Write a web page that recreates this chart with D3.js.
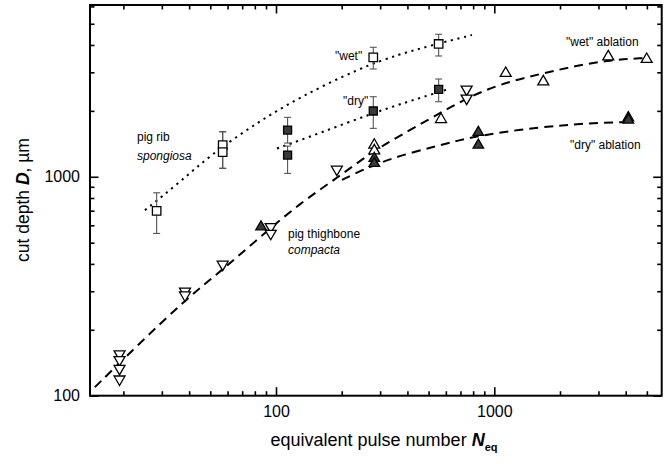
<!DOCTYPE html>
<html>
<head>
<meta charset="utf-8">
<script src="https://cdn.jsdelivr.net/npm/d3@7/dist/d3.min.js"></script>
<style>
body { margin: 0; background: #fff; }
text { font-family: "Liberation Sans", Arial, sans-serif; }
</style>
</head>
<body>
<div id="chart"></div>
<script>

// ---- data (N_eq, D in um) ----

// pig rib spongiosa, "wet" (open squares)
var wetSpongN  = [28.4, 57, 57, 279, 556];
var wetSpongD  = [699, 1396, 1297, 3514, 4042];
var wetSpongLo = [551, 1093, 1093, 3106, 3562];
var wetSpongHi = [845, 1606, 1606, 3904, 4476];

// pig rib spongiosa, "dry" (filled squares)
var drySpongN  = [113, 113, 279, 556];
var drySpongD  = [1635, 1257, 1997, 2508];
var drySpongLo = [1426, 1036, 1664, 2202];
var drySpongHi = [1868, 1381, 2321, 2796];

// pig thighbone compacta (open down triangles)
var compactaN = [19.2, 19.2, 19.2, 19.2, 38.3, 38.3, 57, 94.6, 94.6, 190, 747, 747];
var compactaD = [155, 146, 133, 119, 300, 288, 398, 591, 551, 1081, 2508, 2282];

// "wet" ablation (open up triangles)
var wetAblN = [282, 282, 570, 1128, 1677, 3328, 4990];
var wetAblD = [1396, 1315, 1829, 2969, 2718, 3535, 3440];

// "dry" ablation (filled up triangles)
var dryAblN = [85.4, 282, 282, 845, 845, 4111, 4111];
var dryAblD = [591, 1214, 1151, 1596, 1396, 1861, 1816];

// fit curves
var wetFitN = [25.1, 36.3, 51.4, 82.7, 128.8, 242.6, 370, 524, 790];
var wetFitD = [704, 946, 1283, 1778, 2313, 3140, 3638, 3999, 4442];
var dryFitN = [101, 159, 278, 411, 607];
var dryFitD = [1346, 1584, 1955, 2218, 2503];
var ablWetFitN = [14.8, 23.8, 38.3, 56.6, 84.5, 128.8, 190.3, 278, 411, 564, 750, 1062, 1619, 2343, 3389, 4901];
var ablWetFitD = [109.4, 173.8, 273.3, 374.7, 530, 758, 986, 1311, 1635, 1955, 2289, 2653, 2947, 3206, 3415, 3487];
var ablDryFitN = [200.6, 309, 564, 860, 1619, 2744, 4055];
var ablDryFitD = [967, 1192, 1396, 1551, 1687, 1760, 1778];

// ticks
var xMajor = [100, 1000];
var xMinor = [20, 30, 40, 50, 60, 70, 80, 90, 200, 300, 400, 500, 600, 700, 800, 900, 2000, 3000, 4000, 5000];
var yMajor = [100, 1000];
var yMinor = [200, 300, 400, 500, 600, 700, 800, 900, 2000, 3000, 4000, 5000, 6000];
var xTickLabels = ["100", "1000"];
var yTickLabels = ["100", "1000"];

function zip(a, b) { return a.map(function(v, i) { return [v, b[i]]; }); }

// set the dimensions and margins of the graph
var margin = {top: 5, right: 7.3, bottom: 68.3, left: 90},
    width = 669 - margin.left - margin.right,
    height = 464 - margin.top - margin.bottom;

var x = d3.scaleLog().domain([14.06, 5846]).range([0, width]);
var y = d3.scaleLog().domain([100, 6090]).range([height, 0]);

var root = d3.select("#chart").append("svg")
    .attr("width", 669)
    .attr("height", 464);
var svg = root.append("g")
    .attr("transform", "translate(" + margin.left + "," + margin.top + ")");

// axes, ticks pointing inward on all four sides
function drawAxis(make, pos, major, minor, labels) {
  var gMin = svg.append("g").attr("transform", pos)
    .call(make().tickValues(minor).tickSize(-4.5).tickFormat(""));
  var gMaj = svg.append("g").attr("transform", pos)
    .call(make().tickValues(major).tickSize(-8.5).tickPadding(10)
      .tickFormat(labels ? function(d, i) { return labels[i]; } : ""));
  [gMin, gMaj].forEach(function(g) {
    g.select(".domain").remove();
    g.selectAll("line").attr("stroke", "#000").attr("stroke-width", 1.6);
    g.selectAll("text").attr("fill", "#000").style("font-size", "16px")
      .style("font-family", '"Liberation Sans", Arial, sans-serif');
  });
}
drawAxis(function() { return d3.axisBottom(x); }, "translate(0," + height + ")", xMajor, xMinor, xTickLabels);
drawAxis(function() { return d3.axisTop(x); }, "translate(0,0)", xMajor, xMinor, null);
drawAxis(function() { return d3.axisLeft(y); }, "translate(0,0)", yMajor, yMinor, yTickLabels);
drawAxis(function() { return d3.axisRight(y); }, "translate(" + width + ",0)", yMajor, yMinor, null);

// frame
svg.append("rect")
  .attr("width", width).attr("height", height)
  .attr("fill", "none").attr("stroke", "#000").attr("stroke-width", 2);

// fit lines
var line = d3.line()
  .x(function(d) { return x(d[0]); })
  .y(function(d) { return y(d[1]); })
  .curve(d3.curveBasis);

function fit(n, dd, dash) {
  svg.append("path")
    .datum(zip(n, dd))
    .attr("d", line)
    .attr("fill", "none")
    .attr("stroke", "#000")
    .attr("stroke-width", 2)
    .attr("stroke-dasharray", dash);
}
fit(wetFitN, wetFitD, "2.2,4.6");
fit(dryFitN, dryFitD, "2.2,4.6");
fit(ablWetFitN, ablWetFitD, "9,6");
fit(ablDryFitN, ablDryFitD, "9,6");

// error bars
function errbars(n, lo, hi) {
  var g = svg.append("g").attr("stroke", "#555").attr("stroke-width", 1.1);
  n.forEach(function(v, i) {
    var cx = x(v);
    g.append("line").attr("x1", cx).attr("x2", cx).attr("y1", y(lo[i])).attr("y2", y(hi[i]));
    g.append("line").attr("x1", cx - 3.5).attr("x2", cx + 3.5).attr("y1", y(lo[i])).attr("y2", y(lo[i]));
    g.append("line").attr("x1", cx - 3.5).attr("x2", cx + 3.5).attr("y1", y(hi[i])).attr("y2", y(hi[i]));
  });
}
errbars(wetSpongN, wetSpongLo, wetSpongHi);
errbars(drySpongN, drySpongLo, drySpongHi);

// markers
function markers(n, dd, type, size, fill, rot) {
  svg.append("g").selectAll("path")
    .data(zip(n, dd))
    .enter().append("path")
      .attr("d", d3.symbol().type(type).size(size))
      .attr("transform", function(d) {
        return "translate(" + x(d[0]) + "," + y(d[1]) + ")" + (rot ? " rotate(180)" : "");
      })
      .attr("fill", fill)
      .attr("stroke", "#000")
      .attr("stroke-width", 1.3);
}
markers(compactaN, compactaD, d3.symbolTriangle, 52, "#fff", true);
markers(wetAblN, wetAblD, d3.symbolTriangle, 52, "#fff", false);
markers(dryAblN, dryAblD, d3.symbolTriangle, 48, "#3a3a3a", false);
markers(wetSpongN, wetSpongD, d3.symbolSquare, 72, "#fff", false);
markers(drySpongN, drySpongD, d3.symbolSquare, 64, "#3a3a3a", false);

// annotations (page coordinates)
function note(tx, ty, s, italic) {
  root.append("text").attr("x", tx).attr("y", ty)
    .style("font-size", "12px")
    .style("font-style", italic ? "italic" : "normal")
    .text(s);
}
note(137, 141, "pig rib", false);
note(137, 160, "spongiosa", true);
note(288, 238, "pig thighbone", false);
note(288, 254, "compacta", true);
note(335, 60, "\"wet\"", false);
note(343, 105, "\"dry\"", false);
note(566, 46, "\"wet\" ablation", false);
note(570, 149, "\"dry\" ablation", false);

// axis titles
var xt = root.append("text")
  .attr("x", 384).attr("y", 446)
  .attr("text-anchor", "middle")
  .style("font-size", "18px");
xt.append("tspan").text("equivalent pulse number  ");
xt.append("tspan").style("font-weight", "700").style("font-style", "italic").text("N");
xt.append("tspan").style("font-weight", "700").style("font-size", "11px").attr("dy", 5).text("eq");

var yt = root.append("text")
  .attr("transform", "translate(29,200) rotate(-90)")
  .attr("text-anchor", "middle")
  .style("font-size", "17.5px");
yt.append("tspan").text("cut depth  ");
yt.append("tspan").style("font-weight", "700").style("font-style", "italic").text("D");
yt.append("tspan").text(",  \u00b5m");

</script>
</body>
</html>
